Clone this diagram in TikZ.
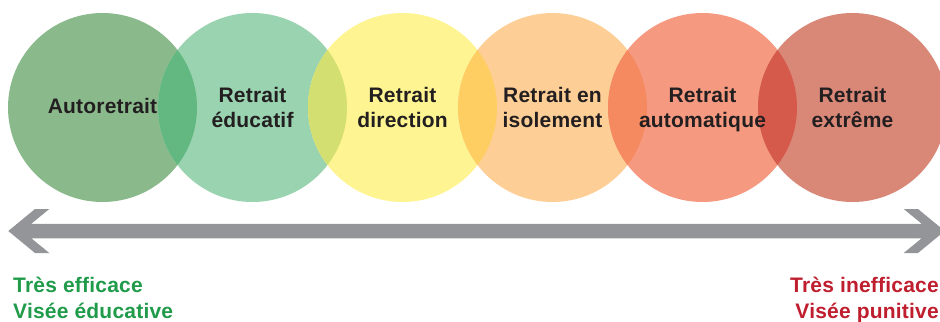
\documentclass[tikz,border=0pt]{standalone}
\usepackage{fontspec}
\setmainfont[LetterSpace=1]{Liberation Sans}
\usetikzlibrary{calc}

\definecolor{autocol}{HTML}{8ABA8C}
\definecolor{educcol}{HTML}{99D3B0}
\definecolor{dircol}{HTML}{FEF491}
\definecolor{isolcol}{HTML}{FDCF97}
\definecolor{autmcol}{HTML}{F59A80}
\definecolor{extrcol}{HTML}{D98878}
\definecolor{lensa}{HTML}{63B882}
\definecolor{lensb}{HTML}{D4DF72}
\definecolor{lensc}{HTML}{FFCE63}
\definecolor{lensd}{HTML}{F58A60}
\definecolor{lense}{HTML}{D55A4C}
\definecolor{textcol}{HTML}{231F20}
\definecolor{arrowcol}{HTML}{939598}
\definecolor{goodcol}{HTML}{1F9B4A}
\definecolor{badcol}{HTML}{BF1E2E}

\tikzset{
  disc/.style={circle, minimum size=189bp, inner sep=0pt, draw=none},
  disctext/.style={text=textcol, align=center, inner sep=0pt,
    font=\fontsize{21bp}{25bp}\selectfont\bfseries,
    execute at begin node=\strut, execute at end node=\strut},
  oneline/.style={disctext, yshift=-0.8bp},
  twoline/.style={disctext, yshift=-3.3bp},
  endtext/.style={inner sep=0pt,
    font=\fontsize{21bp}{25.5bp}\selectfont\bfseries},
}

\begin{document}
\begin{tikzpicture}[x=1bp,y=1bp]
  \useasboundingbox (0,0) rectangle (940,321);
  \clip (0,0) rectangle (940,321);
%%
  % Node: circles
  \node[disc, fill=autocol] (auto) at (102.5,213.5) {};
  \node[disc, fill=educcol] (educ) at (252.5,213.5) {};
  \node[disc, fill=dircol]  (dir)  at (402.5,213.5) {};
  \node[disc, fill=isolcol] (isol) at (552.5,213.5) {};
  \node[disc, fill=autmcol] (autm) at (702.5,213.5) {};
  \node[disc, fill=extrcol] (extr) at (852.5,213.5) {};
  % Overlaps between neighbours
  \begin{scope}
    \clip (auto.center) circle (94.5);
    \fill[lensa] (educ.center) circle (94.5);
  \end{scope}
  \begin{scope}
    \clip (educ.center) circle (94.5);
    \fill[lensb] (dir.center) circle (94.5);
  \end{scope}
  \begin{scope}
    \clip (dir.center) circle (94.5);
    \fill[lensc] (isol.center) circle (94.5);
  \end{scope}
  \begin{scope}
    \clip (isol.center) circle (94.5);
    \fill[lensd] (autm.center) circle (94.5);
  \end{scope}
  \begin{scope}
    \clip (autm.center) circle (94.5);
    \fill[lense] (extr.center) circle (94.5);
  \end{scope}
  % Labels in circles
  \node[oneline] (autotext) at (auto.center) {Autoretrait};
  \node[twoline] (eductext) at (educ.center) {Retrait\\éducatif};
  \node[twoline] (dirtext)  at (dir.center)  {Retrait\\direction};
  \node[twoline] (isoltext) at (isol.center) {Retrait en\\isolement};
  \node[twoline] (autmtext) at (autm.center) {Retrait\\automatique};
  \node[twoline] (extrtext) at (extr.center) {Retrait\\extrême};
%%
  % Edge: double arrow
  \coordinate (lefttip)  at (8.3,90);
  \coordinate (righttip) at (944.7,90);
  \fill[arrowcol] (lefttip) -- ++(26.7,22) -- ++(14.3,0) -- ++(-18,-14.75)
    -- ($(righttip)+(-23,7.25)$) -- ++(-18,14.75) -- ++(14.3,0) -- (righttip)
    -- ++(-26.7,-22) -- ++(-14.3,0) -- ++(18,14.75)
    -- ($(lefttip)+(23,-7.25)$) -- ++(18,-14.75) -- ++(-14.3,0) -- cycle;
  % Node: ends of the scale
  \node[endtext, text=goodcol, align=left, anchor=north west] (good) at (13,44)
    {Très efficace\\Visée éducative};
  \node[endtext, text=badcol, align=right, anchor=north east] (bad) at (939,44)
    {Très inefficace\\Visée punitive};
%
\end{tikzpicture}
\end{document}
